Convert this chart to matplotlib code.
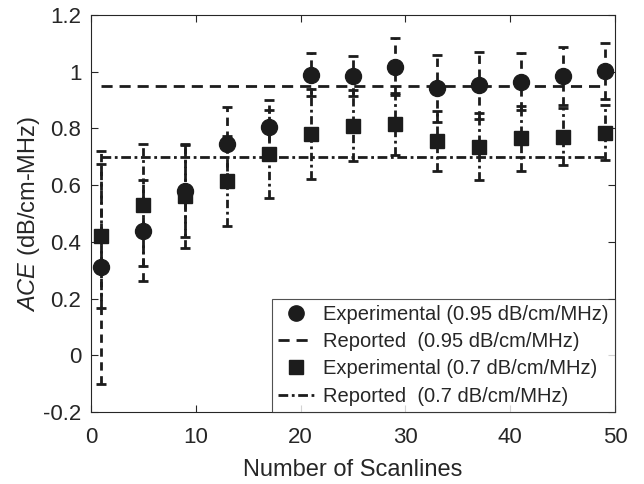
import numpy as np
import matplotlib
matplotlib.use("Agg")
import matplotlib.pyplot as plt
from matplotlib.lines import Line2D

# === DATA ===
scanlines = [1, 5, 9, 13, 17, 21, 25, 29, 33, 37, 41, 45, 49]
ace_095 = [0.31, 0.44, 0.58, 0.745, 0.805, 0.99, 0.985, 1.018, 0.942, 0.953, 0.965, 0.985, 1.003]
err_095 = [0.41, 0.178, 0.164, 0.13, 0.097, 0.075, 0.07, 0.10, 0.118, 0.118, 0.10, 0.103, 0.10]
ace_07 = [0.42, 0.53, 0.56, 0.615, 0.71, 0.78, 0.81, 0.816, 0.757, 0.736, 0.765, 0.771, 0.785]
err_07 = [0.255, 0.216, 0.182, 0.16, 0.155, 0.16, 0.124, 0.11, 0.106, 0.118, 0.114, 0.10, 0.097]
reported_095 = 0.95
reported_07 = 0.7
legend_labels = ["Experimental (0.95 dB/cm/MHz)", "Reported  (0.95 dB/cm/MHz)",
                 "Experimental (0.7 dB/cm/MHz)", "Reported  (0.7 dB/cm/MHz)"]

# === STYLE ===
plt.rcParams['font.family'] = ['Liberation Sans', 'DejaVu Sans']
plt.rcParams['mathtext.fontset'] = 'custom'
plt.rcParams['mathtext.it'] = 'Liberation Sans:italic'
K = '#1c1c1c'
TXT = '#262626'
LW = 2.0
DASH = (0, (4, 2.5))
DASHDOT = (0, (3.5, 1.3, 1, 1.3))

fig = plt.figure(figsize=(6.44, 4.84), dpi=100)
ax = fig.add_axes([0.1413, 0.1488, 0.8137, 0.8202])

x = np.array(scanlines)

# reference lines
ax.plot(x, np.full(len(x), reported_095), color=K, lw=LW, ls=DASH, zorder=1)
ax.plot(x, np.full(len(x), reported_07), color=K, lw=LW, ls=DASHDOT, zorder=1)

# error bars
eb1 = ax.errorbar(x, ace_095, yerr=err_095, fmt='o', color=K, ms=11.5, mec=K,
                  ecolor=K, elinewidth=LW, capsize=3.5, capthick=LW, zorder=3)
eb1[2][0].set_linestyle((0, (3, 2)))
eb2 = ax.errorbar(x, ace_07, yerr=err_07, fmt='s', color=K, ms=9.5, mec=K,
                  ecolor=K, elinewidth=LW, capsize=3.5, capthick=LW, zorder=3)
eb2[2][0].set_linestyle((0, (3, 1.3, 1, 1.3)))

ax.set_xlim(0, 50)
ax.set_ylim(-0.2, 1.2)
ax.set_xticks(range(0, 51, 10))
ax.set_yticks(np.arange(-0.2, 1.21, 0.2))
ax.set_yticklabels(['-0.2', '0', '0.2', '0.4', '0.6', '0.8', '1', '1.2'])
ax.tick_params(direction='in', top=True, right=True, labelsize=16, length=5,
               width=0.8, colors=TXT, pad=7)
ax.tick_params(axis='x', pad=11)
for s in ax.spines.values():
    s.set_linewidth(0.8)
    s.set_color(TXT)

ax.set_xlabel('Number of Scanlines', fontsize=17, color=TXT, labelpad=8)
ax.set_ylabel(r'$\mathit{ACE}$ (dB/cm-MHz)', fontsize=17, color=TXT, labelpad=1)

handles = [
    Line2D([], [], marker='o', ls='none', color=K, ms=11),
    Line2D([], [], color=K, lw=LW, ls=DASH),
    Line2D([], [], marker='s', ls='none', color=K, ms=9.5),
    Line2D([], [], color=K, lw=LW, ls=DASHDOT),
]
leg = ax.legend(handles, legend_labels, loc='lower right', fontsize=14.5,
                frameon=True, fancybox=False, edgecolor=TXT,
                borderaxespad=0, handlelength=1.8, handletextpad=0.45,
                labelspacing=0.42, borderpad=0.3)
leg.get_frame().set_linewidth(0.8)
for t in leg.get_texts():
    t.set_color(TXT)

fig.savefig('out.png', dpi=100)
